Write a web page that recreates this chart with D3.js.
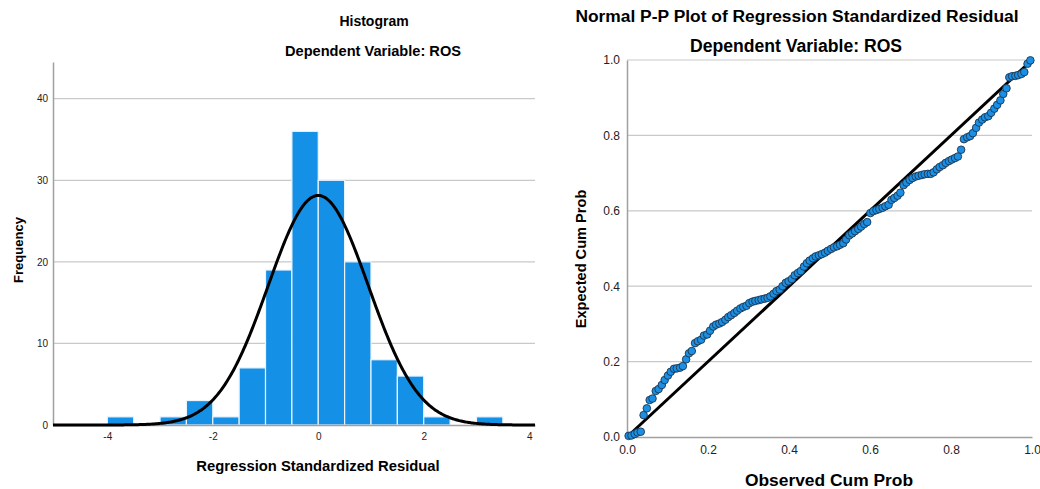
<!DOCTYPE html>
<html><head><meta charset="utf-8">
<script src="https://cdn.jsdelivr.net/npm/d3@7"></script>
<style>body{margin:0;background:#fff}svg{display:block;font-family:"Liberation Sans",Arial,sans-serif}</style>
</head><body>
<svg id="c" width="1040" height="489"></svg>
<script>
// Histogram data (bin width 0.5)
const binStarts = [-4, -3, -2.5, -2, -1.5, -1, -0.5, 0, 0.5, 1, 1.5, 2, 3];
const binCounts = [1, 1, 3, 1, 7, 19, 36, 30, 20, 8, 6, 1, 1];
const binWidth = 0.5;
const histXTicks = [-4, -2, 0, 2, 4];
const histYTicks = [0, 10, 20, 30, 40];
const normMean = 0;
const normSd = 0.95;
const normN = 134;

// P-P plot data
const observedCum = [
.004,.011,.019,.026,.034,.041,.049,.056,.063,.071,.078,.086,.093,.101,.108,.116,.123,.131,.138,.146,
.153,.160,.168,.175,.183,.190,.198,.205,.213,.220,.228,.235,.243,.250,.257,.265,.272,.280,.287,.295,
.302,.310,.317,.325,.332,.340,.347,.354,.362,.369,.377,.384,.392,.399,.407,.414,.422,.429,.437,.444,
.451,.459,.466,.474,.481,.489,.496,.504,.511,.519,.526,.534,.541,.549,.556,.563,.571,.578,.586,.593,
.601,.608,.616,.623,.631,.638,.646,.653,.660,.668,.675,.683,.690,.698,.705,.713,.720,.728,.735,.743,
.750,.757,.765,.772,.780,.787,.795,.802,.810,.817,.825,.832,.840,.847,.854,.862,.869,.877,.884,.892,
.899,.907,.914,.922,.929,.937,.944,.951,.959,.966,.974,.981,.989,.996];
const expectedCum = [
.003,.004,.008,.012,.014,.058,.076,.098,.102,.122,.127,.138,.151,.163,.173,.181,.182,.184,.188,.206,
.222,.228,.249,.254,.258,.269,.272,.282,.293,.298,.301,.305,.311,.318,.323,.329,.335,.341,.345,.348,
.355,.359,.361,.363,.365,.367,.369,.373,.380,.387,.391,.400,.409,.413,.419,.429,.435,.440,.452,.461,
.468,.474,.479,.482,.485,.489,.494,.499,.503,.506,.510,.514,.524,.535,.540,.546,.552,.558,.565,.570,
.594,.599,.602,.605,.608,.612,.616,.629,.634,.640,.648,.668,.675,.682,.687,.691,.693,.695,.697,.698,
.698,.702,.710,.716,.721,.727,.732,.736,.740,.744,.762,.790,.795,.798,.806,.820,.834,.842,.848,.851,
.860,.871,.881,.893,.910,.925,.954,.957,.958,.960,.963,.968,.990,.999];
const ppTicks = [0, 0.2, 0.4, 0.6, 0.8, 1.0];

const svg = d3.select("#c");
const gridCol = "#c9c9c9", axisCol = "#a0a0a0";
const FONT = "Liberation Sans, Arial, sans-serif";

// ---------- Histogram ----------
const hx = d3.scaleLinear().domain([-5.03, 4.11]).range([53, 535]);
const hy = d3.scaleLinear().domain([0, 44.5]).range([425, 62]);
const H = svg.append("g");

H.append("g").selectAll("line").data(histYTicks.filter(d => d > 0)).join("line")
  .attr("x1", hx.range()[0]).attr("x2", hx.range()[1])
  .attr("y1", d => hy(d)).attr("y2", d => hy(d))
  .attr("stroke", gridCol).attr("stroke-width", 1.2);

const yAxH = d3.axisLeft(hy).tickValues(histYTicks).tickSize(0).tickPadding(5).tickFormat(d => String(d));
H.append("g").attr("transform", `translate(${hx.range()[0]},0)`).call(yAxH)
  .call(g => { g.select(".domain").attr("stroke", axisCol).attr("stroke-width", 1.5);
    g.selectAll("text").attr("font-size", 10).attr("fill", "#222").attr("font-family", FONT); });

H.append("g").selectAll("rect").data(binStarts.map((s, i) => ({ s, c: binCounts[i] }))).join("rect")
  .attr("x", d => hx(d.s)).attr("width", d => hx(d.s + binWidth) - hx(d.s))
  .attr("y", d => hy(d.c)).attr("height", d => hy(0) - hy(d.c))
  .attr("fill", "#1490e6").attr("stroke", "#eaf4fd").attr("stroke-width", 1.2);

const xAxH = d3.axisBottom(hx).tickValues(histXTicks).tickSize(0).tickPadding(8).tickFormat(d => String(d));
H.append("g").attr("transform", `translate(0,${hy(0)})`).call(xAxH)
  .call(g => { g.select(".domain").attr("stroke", axisCol).attr("stroke-width", 1.5);
    g.selectAll("text").attr("font-size", 10).attr("fill", "#222").attr("font-family", FONT); });

const curveX = d3.range(hx.domain()[0], hx.domain()[1] + 0.001, 0.02);
const pdf = x => normN * binWidth * Math.exp(-0.5 * ((x - normMean) / normSd) ** 2) / (normSd * Math.sqrt(2 * Math.PI));
H.append("path").datum(curveX)
  .attr("d", d3.line().x(d => hx(d)).y(d => hy(pdf(d))))
  .attr("fill", "none").attr("stroke", "#000").attr("stroke-width", 3);

H.append("text").attr("x", 374).attr("y", 26).attr("text-anchor", "middle")
  .attr("font-size", 14).attr("font-weight", "bold").text("Histogram");
H.append("text").attr("x", 373).attr("y", 56).attr("text-anchor", "middle")
  .attr("font-size", 14.6).attr("font-weight", "bold").text("Dependent Variable: ROS");
H.append("text").attr("x", 318).attr("y", 471).attr("text-anchor", "middle")
  .attr("font-size", 14.8).attr("font-weight", "bold").text("Regression Standardized Residual");
H.append("text").attr("transform", "translate(23,250) rotate(-90)").attr("text-anchor", "middle")
  .attr("font-size", 13).attr("font-weight", "bold").text("Frequency");

// ---------- P-P plot ----------
const px = d3.scaleLinear().domain([0, 1]).range([627, 1032]);
const py = d3.scaleLinear().domain([0, 1]).range([437, 60]);
const P = svg.append("g");

P.append("g").selectAll("line").data(ppTicks.filter(d => d > 0)).join("line")
  .attr("x1", px(0)).attr("x2", px(1)).attr("y1", d => py(d)).attr("y2", d => py(d))
  .attr("stroke", gridCol).attr("stroke-width", 1.2);

P.append("g").attr("transform", `translate(${px(0)},0)`)
  .call(d3.axisLeft(py).tickValues(ppTicks).tickSize(0).tickPadding(7).tickFormat(d3.format(".1f")))
  .call(g => { g.select(".domain").attr("stroke", axisCol).attr("stroke-width", 1.5);
    g.selectAll("text").attr("font-size", 12).attr("fill", "#222").attr("font-family", FONT); });
P.append("g").attr("transform", `translate(0,${py(0)})`)
  .call(d3.axisBottom(px).tickValues(ppTicks).tickSize(0).tickPadding(8).tickFormat(d3.format(".1f")))
  .call(g => { g.select(".domain").attr("stroke", axisCol).attr("stroke-width", 1.5);
    g.selectAll("text").attr("font-size", 12).attr("fill", "#222").attr("font-family", FONT); });

P.append("line").attr("x1", px(0)).attr("y1", py(0)).attr("x2", px(1)).attr("y2", py(1))
  .attr("stroke", "#000").attr("stroke-width", 3);

P.append("g").selectAll("circle").data(observedCum.map((o, i) => [o, expectedCum[i]])).join("circle")
  .attr("cx", d => px(d[0])).attr("cy", d => py(d[1])).attr("r", 3.8)
  .attr("fill", "#1a8fe3").attr("stroke", "#1c3550").attr("stroke-width", 0.9);

P.append("text").attr("x", 797).attr("y", 22).attr("text-anchor", "middle")
  .attr("font-size", 17.4).attr("font-weight", "bold").text("Normal P-P Plot of Regression Standardized Residual");
P.append("text").attr("x", 796).attr("y", 52).attr("text-anchor", "middle")
  .attr("font-size", 17.6).attr("font-weight", "bold").text("Dependent Variable: ROS");
P.append("text").attr("x", 829).attr("y", 486).attr("text-anchor", "middle")
  .attr("font-size", 17.4).attr("font-weight", "bold").text("Observed Cum Prob");
P.append("text").attr("transform", "translate(586,259) rotate(-90)").attr("text-anchor", "middle")
  .attr("font-size", 14.6).attr("font-weight", "bold").text("Expected Cum Prob");
</script>
</body></html>
